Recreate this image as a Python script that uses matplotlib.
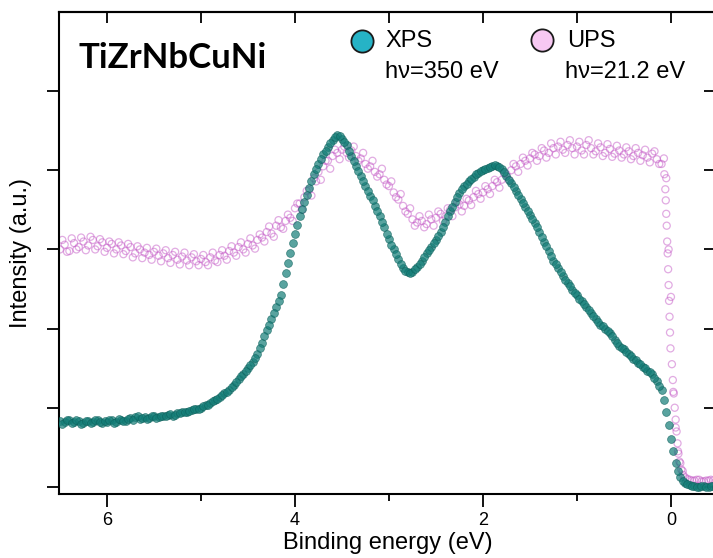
import numpy as np
import matplotlib
matplotlib.use('Agg')
import matplotlib.pyplot as plt

plt.rcParams['font.family'] = ['Liberation Sans', 'DejaVu Sans']

# binding energy grid (eV), 0.05 eV steps from 6.50 down to -0.45,
# plus a second grid shifted by half a step
energy = np.round(np.linspace(6.5, -0.45, 140), 3)
energy_b = energy - 0.025

xps_intensity = [
    0.83, 0.82, 0.84, 0.82, 0.83, 0.81, 0.83, 0.82, 0.84, 0.81,
    0.82, 0.84, 0.82, 0.85, 0.83, 0.87, 0.88, 0.86, 0.88, 0.87,
    0.89, 0.88, 0.90, 0.91, 0.90, 0.93, 0.94, 0.95, 0.97, 0.98,
    1.00, 1.03, 1.06, 1.10, 1.13, 1.18, 1.23, 1.29, 1.36, 1.43,
    1.50, 1.58, 1.68, 1.82, 1.98, 2.12, 2.27, 2.42, 2.70, 2.95,
    3.20, 3.42, 3.60, 3.78, 3.95, 4.08, 4.20, 4.30, 4.38, 4.45,
    4.40, 4.32, 4.18, 4.05, 3.93, 3.80, 3.68, 3.55, 3.42, 3.28,
    3.13, 3.00, 2.88, 2.76, 2.71, 2.72, 2.78, 2.86, 2.95, 3.03,
    3.12, 3.22, 3.35, 3.48, 3.60, 3.71, 3.80, 3.86, 3.92, 3.97,
    4.00, 4.03, 4.05, 4.06, 4.02, 3.93, 3.84, 3.74, 3.64, 3.54,
    3.44, 3.33, 3.22, 3.10, 2.98, 2.86, 2.76, 2.66, 2.58, 2.49,
    2.42, 2.35, 2.27, 2.20, 2.12, 2.05, 2.00, 1.95, 1.86, 1.78,
    1.74, 1.68, 1.62, 1.57, 1.52, 1.47, 1.42, 1.34, 1.22, 0.95,
    0.60, 0.30, 0.12, 0.05, 0.02, 0.01, 0.00, 0.01, 0.00, 0.01,
]

xps_intensity_b = [
    0.80, 0.84, 0.81, 0.84, 0.80, 0.83, 0.81, 0.85, 0.82, 0.83,
    0.84, 0.81, 0.86, 0.83, 0.86, 0.85, 0.89, 0.87, 0.86, 0.89,
    0.87, 0.90, 0.89, 0.92, 0.91, 0.93, 0.95, 0.96, 0.98, 0.99,
    1.02, 1.04, 1.08, 1.11, 1.16, 1.20, 1.26, 1.33, 1.40, 1.47,
    1.54, 1.63, 1.75, 1.90, 2.05, 2.20, 2.35, 2.56, 2.83, 3.08,
    3.31, 3.51, 3.69, 3.87, 4.02, 4.14, 4.25, 4.34, 4.42, 4.43,
    4.36, 4.25, 4.12, 3.99, 3.86, 3.74, 3.62, 3.48, 3.35, 3.20,
    3.06, 2.94, 2.82, 2.73, 2.70, 2.75, 2.82, 2.90, 2.99, 3.08,
    3.17, 3.28, 3.42, 3.54, 3.66, 3.76, 3.83, 3.89, 3.95, 3.99,
    4.02, 4.04, 4.07, 4.04, 3.98, 3.88, 3.79, 3.69, 3.59, 3.49,
    3.39, 3.28, 3.16, 3.04, 2.92, 2.81, 2.71, 2.62, 2.54, 2.45,
    2.38, 2.31, 2.24, 2.16, 2.08, 2.03, 1.97, 1.90, 1.82, 1.76,
    1.71, 1.65, 1.60, 1.55, 1.50, 1.45, 1.38, 1.28, 1.10, 0.78,
    0.45, 0.20, 0.08, 0.03, 0.01, 0.00, 0.01, 0.00, 0.01, 0.00,
]

ups_intensity = [
    3.00, 3.06, 2.98, 3.08, 3.03, 3.10, 3.05, 3.12, 3.04, 3.09,
    3.02, 3.07, 3.00, 3.05, 2.98, 3.03, 2.95, 3.00, 2.96, 2.93,
    2.97, 2.92, 2.95, 2.89, 2.93, 2.87, 2.91, 2.86, 2.90, 2.85,
    2.88, 2.84, 2.90, 2.86, 2.93, 2.92, 2.98, 2.96, 3.03, 3.00,
    3.07, 3.05, 3.12, 3.15, 3.22, 3.20, 3.30, 3.28, 3.36, 3.40,
    3.52, 3.58, 3.66, 3.75, 3.90, 3.98, 4.05, 4.12, 4.18, 4.22,
    4.26, 4.22, 4.25, 4.18, 4.15, 4.08, 4.05, 3.98, 3.95, 3.88,
    3.80, 3.72, 3.63, 3.55, 3.45, 3.38, 3.34, 3.36, 3.32, 3.38,
    3.40, 3.45, 3.42, 3.50, 3.53, 3.57, 3.55, 3.62, 3.66, 3.70,
    3.72, 3.76, 3.80, 3.85, 3.88, 3.95, 4.00, 4.05, 4.08, 4.12,
    4.15, 4.20, 4.18, 4.25, 4.22, 4.28, 4.30, 4.26, 4.32, 4.28,
    4.30, 4.25, 4.32, 4.28, 4.24, 4.29, 4.22, 4.27, 4.21, 4.25,
    4.20, 4.24, 4.18, 4.22, 4.19, 4.16, 4.21, 4.14, 4.08, 3.90,
    2.40, 0.75, 0.30, 0.12, 0.09, 0.08, 0.09, 0.07, 0.08, 0.08,
]

ups_intensity_b = [
    3.12, 2.97, 3.14, 3.00, 3.15, 2.99, 3.16, 3.00, 3.13, 2.97,
    3.10, 2.95, 3.09, 2.94, 3.07, 2.90, 3.04, 2.89, 3.02, 2.87,
    3.01, 2.85, 2.99, 2.83, 2.97, 2.81, 2.96, 2.80, 2.94, 2.80,
    2.93, 2.80, 2.96, 2.84, 2.99, 2.87, 3.04, 2.92, 3.09, 2.96,
    3.14, 3.01, 3.19, 3.10, 3.29, 3.16, 3.37, 3.26, 3.44, 3.36,
    3.58, 3.50, 3.74, 3.68, 3.86, 3.88, 4.12, 4.02, 4.26, 4.14,
    4.30, 4.16, 4.30, 4.12, 4.22, 4.02, 4.12, 3.92, 4.02, 3.82,
    3.86, 3.66, 3.70, 3.48, 3.52, 3.30, 3.42, 3.28, 3.44, 3.30,
    3.48, 3.36, 3.52, 3.42, 3.60, 3.48, 3.64, 3.56, 3.74, 3.64,
    3.80, 3.70, 3.88, 3.78, 3.96, 3.88, 4.08, 3.98, 4.16, 4.06,
    4.22, 4.12, 4.28, 4.16, 4.34, 4.20, 4.36, 4.22, 4.38, 4.20,
    4.36, 4.20, 4.38, 4.20, 4.34, 4.18, 4.33, 4.17, 4.31, 4.16,
    4.29, 4.14, 4.28, 4.12, 4.26, 4.10, 4.24, 4.08, 4.15, 3.00,
    1.20, 0.45, 0.20, 0.10, 0.08, 0.09, 0.07, 0.08, 0.09, 0.07,
]

# finer UPS points across the Fermi edge
ups_edge_energy = [0.07, 0.06, 0.055, 0.05, 0.045, 0.04, 0.035, 0.03, 0.025, 0.02,
                   0.015, 0.01, 0.005, -0.01, -0.02, -0.03, -0.04, -0.05, -0.06,
                   -0.07, -0.08, -0.09, -0.11, -0.13]
ups_edge_intensity = [3.95, 3.76, 3.62, 3.45, 3.30, 3.10, 2.95, 2.75, 2.55, 2.35,
                      2.15, 1.95, 1.75, 1.55, 1.35, 1.18, 1.00, 0.85, 0.70,
                      0.55, 0.42, 0.32, 0.22, 0.15]

xps_color = '#137d77'
ups_color = '#c459c6'

fig = plt.figure(figsize=(7.13, 5.58), dpi=100)
ax = fig.add_axes([0.0828, 0.1147, 0.9215, 0.8638])

ups_x = np.concatenate([energy, energy_b, ups_edge_energy])
ups_y = np.concatenate([ups_intensity, ups_intensity_b, ups_edge_intensity])
ax.scatter(ups_x, ups_y, s=26, facecolors='none', edgecolors=ups_color,
           linewidths=0.9, alpha=0.5, zorder=2)

xps_x = np.concatenate([energy, energy_b])
xps_y = np.concatenate([xps_intensity, xps_intensity_b])
ax.scatter(xps_x, xps_y, s=32, color=xps_color, edgecolors='#0b5f5a',
           linewidths=0.5, alpha=0.7, zorder=3)

ax.set_xlim(6.51, -0.48)
ax.set_ylim(-0.09, 6.0)

ax.set_xticks([6, 4, 2, 0])
ax.set_xticks([5, 3, 1], minor=True)
ax.set_yticks([0, 1, 2, 3, 4, 5])
ax.set_yticklabels([])
ax.tick_params(axis='x', which='major', direction='out', length=9, width=1.3,
               labelsize=13, pad=4, top=False)
ax.tick_params(axis='x', which='minor', direction='out', length=5, width=1.3, top=False)
ax.tick_params(axis='y', direction='out', length=9, width=1.3, right=False)

# inner ticks on top and right edges
sec_x = ax.secondary_xaxis('top')
sec_x.set_xticks([6, 5, 4, 3, 2, 1, 0])
sec_x.set_xticklabels([])
sec_x.tick_params(direction='in', length=8, width=1.3)
sec_x.spines['top'].set_linewidth(1.5)
sec_y = ax.secondary_yaxis('right')
sec_y.set_yticks([0, 1, 2, 3, 4, 5])
sec_y.set_yticklabels([])
sec_y.tick_params(direction='in', length=9, width=1.3)

for side in ['left', 'bottom', 'top']:
    ax.spines[side].set_linewidth(1.5)
ax.spines['right'].set_visible(False)

ax.set_xlabel('Binding energy (eV)', fontsize=17, labelpad=2)
ax.set_ylabel('Intensity (a.u.)', fontsize=17, labelpad=7)

ax.text(0.029, 0.905, 'TiZrNbCuNi', transform=ax.transAxes, fontsize=25,
        fontweight='bold', family='Lato', va='center', ha='left')

ax.plot([0.4612], [0.9398], 'o', transform=ax.transAxes, markersize=16,
        markerfacecolor='#26b3c6', markeredgecolor='#1a1a1a', markeredgewidth=1.3,
        clip_on=False)
ax.text(0.4962, 0.9398, 'XPS', transform=ax.transAxes, fontsize=17, va='center')
ax.text(0.4962, 0.8755, 'h\u03bd=350 eV', transform=ax.transAxes, fontsize=17, va='center')
ax.plot([0.7351], [0.9419], 'o', transform=ax.transAxes, markersize=16,
        markerfacecolor='#f7c8f2', markeredgecolor='#1a1a1a', markeredgewidth=1.3,
        clip_on=False)
ax.text(0.7732, 0.9398, 'UPS', transform=ax.transAxes, fontsize=17, va='center')
ax.text(0.7702, 0.8755, 'h\u03bd=21.2 eV', transform=ax.transAxes, fontsize=17, va='center')

fig.savefig('out.png', dpi=100)
